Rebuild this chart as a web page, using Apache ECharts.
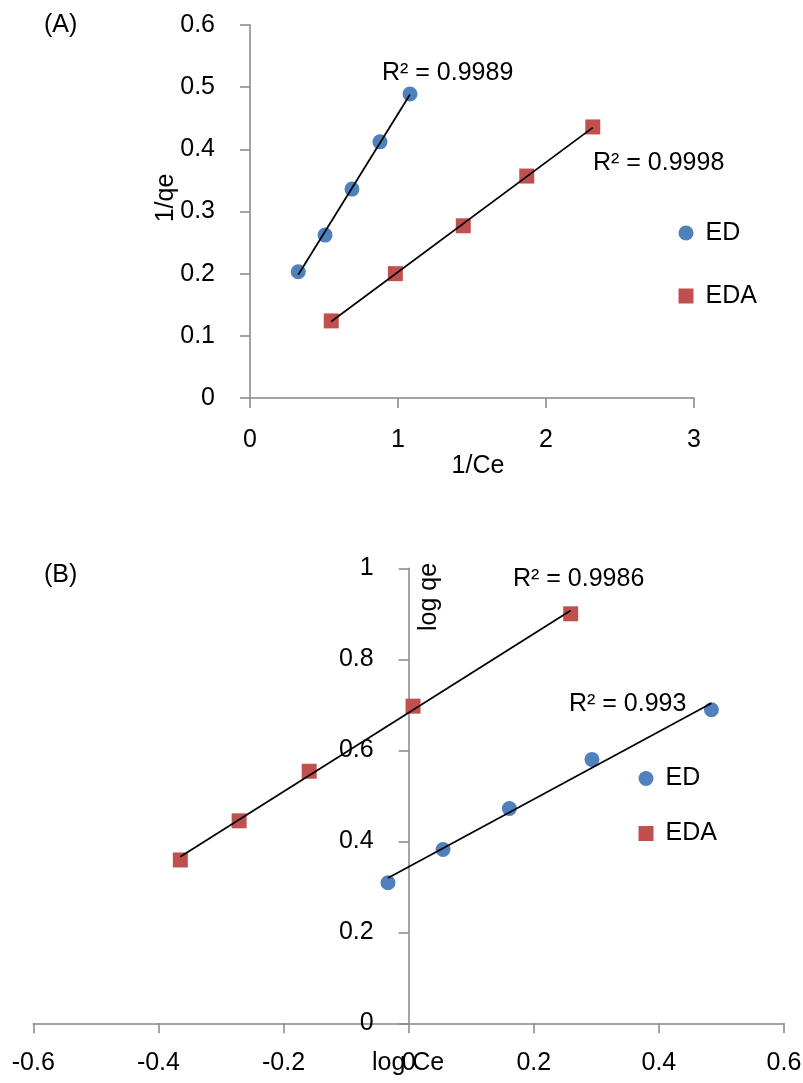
<!DOCTYPE html>
<html>
<head>
<meta charset="utf-8">
<script src="https://cdn.jsdelivr.net/npm/echarts@6/dist/echarts.min.js"></script>
<style>
html,body{margin:0;padding:0;background:#fff;}
#chart{width:803px;height:1083px;}
</style>
</head>
<body>
<div id="chart"></div>
<script>
// ---- Data ----
// Panel (A): Langmuir plot 1/qe vs 1/Ce
const edInvCe  = [0.326, 0.507, 0.689, 0.878, 1.081];
const edInvQe  = [0.203, 0.262, 0.336, 0.412, 0.489];
const edaInvCe = [0.549, 0.982, 1.441, 1.870, 2.316];
const edaInvQe = [0.124, 0.200, 0.277, 0.357, 0.436];
// Panel (B): Freundlich plot log qe vs log Ce
const edLogCe  = [-0.033, 0.055, 0.161, 0.293, 0.484];
const edLogQe  = [0.309, 0.382, 0.472, 0.580, 0.689];
const edaLogCe = [-0.365, -0.271, -0.159, 0.007, 0.259];
const edaLogQe = [0.359, 0.445, 0.554, 0.697, 0.900];
// R² labels
const r2A = ['R² = 0.9989', 'R² = 0.9998'];   // ED, EDA
const r2B = ['R² = 0.9986', 'R² = 0.993'];    // EDA, ED
const seriesNames = ['ED', 'EDA'];
const panelLabels = ['(A)', '(B)'];
const axisTitlesA = ['1/Ce', '1/qe'];
const axisTitlesB = ['log Ce', 'log qe'];

const FONT = '"Liberation Sans", Arial, sans-serif';
const FS = 25;
const BLUE = '#4F81BD', RED = '#C0504D', AXIS = '#868686';

function pairs(xs, ys){ return xs.map((x,i)=>[x, ys[i]]); }
function fitLine(xs, ys){
  const n = xs.length;
  const mx = xs.reduce((a,b)=>a+b,0)/n, my = ys.reduce((a,b)=>a+b,0)/n;
  let sxy=0, sxx=0;
  for(let i=0;i<n;i++){ sxy += (xs[i]-mx)*(ys[i]-my); sxx += (xs[i]-mx)*(xs[i]-mx); }
  const b = sxy/sxx, a = my - b*mx;
  const x0 = Math.min(...xs), x1 = Math.max(...xs);
  return [[x0, a+b*x0],[x1, a+b*x1]];
}

function valAxis(grid, min, max, interval, margin, offset){
  return {
    type:'value', gridIndex:grid, min:min, max:max, interval:interval,
    offset: offset || 0,
    splitLine:{show:false},
    axisLine:{show:true, onZero:false, lineStyle:{color:AXIS, width:1.5}},
    axisTick:{show:true, inside:false, length:10, lineStyle:{color:AXIS, width:1.5}},
    axisLabel:{color:'#000', fontSize:FS, fontFamily:FONT, margin:margin}
  };
}

function txt(text, x, y, opts){
  opts = opts || {};
  return {
    type:'text', x:x, y:y, rotation: opts.rot || 0, z:100,
    style:{
      text:text, fill:'#000', font: FS + 'px ' + FONT,
      textAlign: opts.align || 'left', align: opts.align || 'left',
      textVerticalAlign:'middle', verticalAlign:'middle'
    }
  };
}

const scatterStyle = (name, xi, yi, data) => ({
  name:name, type:'scatter', xAxisIndex:xi, yAxisIndex:yi, data:data,
  symbol: name === 'ED' ? 'circle' : 'rect', symbolSize:15,
  itemStyle:{color: name === 'ED' ? BLUE : RED, opacity:1}, z:3
});
const trend = (xi, yi, xs, ys) => ({
  type:'line', xAxisIndex:xi, yAxisIndex:yi, data:fitLine(xs, ys),
  symbol:'none', lineStyle:{color:'#000', width:1.75}, z:5, silent:true
});

// Panel B grid: x from -0.6 to 0.6; y axis drawn where x = 0
const gridB = {left:33.3, top:568.3, width:750.7, height:455};
const bMin = -0.6, bMax = 0.6;
const yAxisBOffset = -gridB.width * (0 - bMin) / (bMax - bMin);

const chart = echarts.init(document.getElementById('chart'), null, {renderer:'canvas'});
chart.setOption({
  backgroundColor:'#fff',
  animation:false,
  textStyle:{fontFamily:FONT},
  grid:[
    {left:250, top:25, width:444, height:373, containLabel:false, outerBoundsMode:'none'},
    Object.assign({containLabel:false, outerBoundsMode:'none'}, gridB)
  ],
  xAxis:[ valAxis(0, 0, 3, 1, 29.5), valAxis(1, bMin, bMax, 0.2, 27) ],
  yAxis:[ valAxis(0, 0, 0.6, 0.1, 35), valAxis(1, 0, 1, 0.2, 35, yAxisBOffset) ],
  legend:[
    {orient:'vertical', left:673.5, top:215.5, itemWidth:15, itemHeight:15, itemGap:38,
     data:[{name:'ED', icon:'circle'},{name:'EDA', icon:'rect'}],
     textStyle:{fontSize:FS, fontFamily:FONT, color:'#000', padding:[0,0,0,7]}},
    {orient:'vertical', left:633.5, top:761, itemWidth:15, itemHeight:15, itemGap:30,
     data:[{name:'ED', icon:'circle'},{name:'EDA', icon:'rect'}],
     textStyle:{fontSize:FS, fontFamily:FONT, color:'#000', padding:[0,0,0,7]}}
  ],
  graphic:[
    txt(panelLabels[0], 44, 25),
    txt(axisTitlesA[0], 478, 466, {align:'center'}),
    txt(axisTitlesA[1], 166, 198, {align:'center', rot:Math.PI/2}),
    txt(r2A[0], 382, 73),
    txt(r2A[1], 593, 163),
    txt(panelLabels[1], 44, 575),
    txt(axisTitlesB[0], 372, 1063),
    txt(axisTitlesB[1], 429, 597, {align:'center', rot:Math.PI/2}),
    txt(r2B[0], 513, 579),
    txt(r2B[1], 569, 704)
  ],
  series:[
    scatterStyle('ED', 0, 0, pairs(edInvCe, edInvQe)),
    scatterStyle('EDA', 0, 0, pairs(edaInvCe, edaInvQe)),
    trend(0, 0, edInvCe, edInvQe),
    trend(0, 0, edaInvCe, edaInvQe),
    scatterStyle('ED', 1, 1, pairs(edLogCe, edLogQe)),
    scatterStyle('EDA', 1, 1, pairs(edaLogCe, edaLogQe)),
    trend(1, 1, edLogCe, edLogQe),
    trend(1, 1, edaLogCe, edaLogQe)
  ]
});
</script>
</body>
</html>
